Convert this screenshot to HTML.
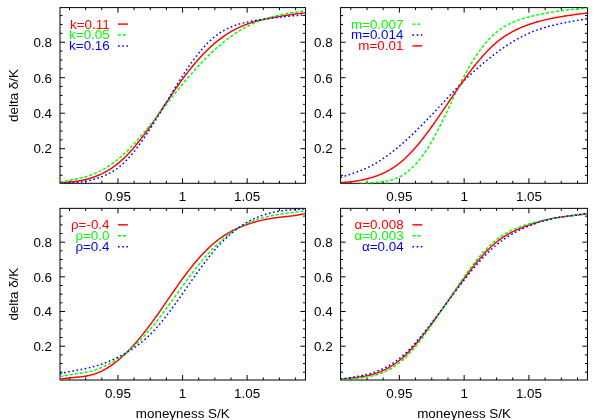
<!DOCTYPE html>
<html><head><meta charset="utf-8"><title>delta vs moneyness</title>
<style>
html,body{margin:0;padding:0;background:#fff;}
svg{display:block;will-change:transform;}
text{font-family:"Liberation Sans",sans-serif;font-size:13.4px;fill:#000;}
.ax{stroke:#000;stroke-width:1;fill:none;shape-rendering:auto;}
.cv{fill:none;stroke-width:1.45;}
</style></head>
<body>
<svg width="600" height="420" viewBox="0 0 600 420">
<rect x="0" y="0" width="600" height="420" fill="#ffffff"/>
<!-- panel 1 -->
<g>
<path class="ax" d="M69.50 183.30v-2.50M69.50 7.60v2.50M85.65 183.30v-2.50M85.65 7.60v2.50M101.80 183.30v-2.50M101.80 7.60v2.50M117.95 183.30v-5.00M117.95 7.60v5.00M134.10 183.30v-2.50M134.10 7.60v2.50M150.25 183.30v-2.50M150.25 7.60v2.50M166.40 183.30v-2.50M166.40 7.60v2.50M182.55 183.30v-5.00M182.55 7.60v5.00M198.70 183.30v-2.50M198.70 7.60v2.50M214.85 183.30v-2.50M214.85 7.60v2.50M231.00 183.30v-2.50M231.00 7.60v2.50M247.15 183.30v-5.00M247.15 7.60v5.00M263.30 183.30v-2.50M263.30 7.60v2.50M279.45 183.30v-2.50M279.45 7.60v2.50M295.60 183.30v-2.50M295.60 7.60v2.50M60.00 175.31h2.50M305.50 175.31h-2.50M60.00 166.44h2.50M305.50 166.44h-2.50M60.00 157.57h2.50M305.50 157.57h-2.50M60.00 148.69h5.00M305.50 148.69h-5.00M60.00 139.82h2.50M305.50 139.82h-2.50M60.00 130.94h2.50M305.50 130.94h-2.50M60.00 122.07h2.50M305.50 122.07h-2.50M60.00 113.20h5.00M305.50 113.20h-5.00M60.00 104.32h2.50M305.50 104.32h-2.50M60.00 95.45h2.50M305.50 95.45h-2.50M60.00 86.58h2.50M305.50 86.58h-2.50M60.00 77.70h5.00M305.50 77.70h-5.00M60.00 68.83h2.50M305.50 68.83h-2.50M60.00 59.96h2.50M305.50 59.96h-2.50M60.00 51.08h2.50M305.50 51.08h-2.50M60.00 42.21h5.00M305.50 42.21h-5.00M60.00 33.33h2.50M305.50 33.33h-2.50M60.00 24.46h2.50M305.50 24.46h-2.50M60.00 15.59h2.50M305.50 15.59h-2.50"/>
<rect class="ax" x="60.00" y="7.60" width="245.50" height="175.70"/>
<clipPath id="cp1"><rect x="59.70" y="7.30" width="246.10" height="176.30"/></clipPath>
<g clip-path="url(#cp1)">
<path class="cv" d="M60.00 182.80 L61.03 182.75 L62.05 182.70 L63.08 182.64 L64.11 182.57 L65.14 182.50 L66.16 182.43 L67.19 182.35 L68.22 182.26 L69.24 182.17 L70.27 182.06 L71.30 181.96 L72.33 181.84 L73.35 181.72 L74.38 181.58 L75.41 181.44 L76.44 181.29 L77.46 181.13 L78.49 180.96 L79.52 180.79 L80.54 180.60 L81.57 180.40 L82.60 180.18 L83.63 179.96 L84.65 179.73 L85.68 179.48 L86.71 179.22 L87.73 178.95 L88.76 178.67 L89.79 178.37 L90.82 178.06 L91.84 177.73 L92.87 177.39 L93.90 177.04 L94.92 176.67 L95.95 176.28 L96.98 175.88 L98.01 175.46 L99.03 175.03 L100.06 174.57 L101.09 174.10 L102.12 173.62 L103.14 173.11 L104.17 172.58 L105.20 172.04 L106.22 171.47 L107.25 170.88 L108.28 170.28 L109.31 169.65 L110.33 169.00 L111.36 168.33 L112.39 167.64 L113.41 166.92 L114.44 166.18 L115.47 165.42 L116.50 164.64 L117.52 163.83 L118.55 162.99 L119.58 162.13 L120.60 161.24 L121.63 160.33 L122.66 159.39 L123.69 158.43 L124.71 157.44 L125.74 156.43 L126.77 155.39 L127.79 154.33 L128.82 153.25 L129.85 152.14 L130.88 151.01 L131.90 149.86 L132.93 148.69 L133.96 147.50 L134.99 146.29 L136.01 145.06 L137.04 143.81 L138.07 142.54 L139.09 141.25 L140.12 139.95 L141.15 138.63 L142.18 137.29 L143.20 135.94 L144.23 134.57 L145.26 133.19 L146.28 131.79 L147.31 130.38 L148.34 128.96 L149.37 127.52 L150.39 126.07 L151.42 124.61 L152.45 123.14 L153.47 121.66 L154.50 120.17 L155.53 118.67 L156.56 117.16 L157.58 115.65 L158.61 114.13 L159.64 112.60 L160.67 111.07 L161.69 109.54 L162.72 108.00 L163.75 106.46 L164.77 104.92 L165.80 103.38 L166.83 101.85 L167.86 100.31 L168.88 98.78 L169.91 97.25 L170.94 95.73 L171.96 94.21 L172.99 92.69 L174.02 91.19 L175.05 89.69 L176.07 88.20 L177.10 86.72 L178.13 85.26 L179.15 83.80 L180.18 82.36 L181.21 80.93 L182.24 79.51 L183.26 78.11 L184.29 76.73 L185.32 75.36 L186.35 74.00 L187.37 72.67 L188.40 71.35 L189.43 70.04 L190.45 68.75 L191.48 67.48 L192.51 66.22 L193.54 64.98 L194.56 63.76 L195.59 62.56 L196.62 61.37 L197.64 60.19 L198.67 59.04 L199.70 57.90 L200.73 56.78 L201.75 55.67 L202.78 54.59 L203.81 53.52 L204.83 52.46 L205.86 51.43 L206.89 50.41 L207.92 49.41 L208.94 48.43 L209.97 47.47 L211.00 46.52 L212.03 45.60 L213.05 44.69 L214.08 43.80 L215.11 42.92 L216.13 42.07 L217.16 41.23 L218.19 40.41 L219.22 39.61 L220.24 38.83 L221.27 38.06 L222.30 37.31 L223.32 36.58 L224.35 35.87 L225.38 35.17 L226.41 34.49 L227.43 33.82 L228.46 33.17 L229.49 32.54 L230.51 31.93 L231.54 31.33 L232.57 30.74 L233.60 30.17 L234.62 29.62 L235.65 29.08 L236.68 28.56 L237.71 28.05 L238.73 27.56 L239.76 27.08 L240.79 26.61 L241.81 26.17 L242.84 25.73 L243.87 25.31 L244.90 24.90 L245.92 24.51 L246.95 24.13 L247.98 23.76 L249.00 23.41 L250.03 23.07 L251.06 22.74 L252.09 22.42 L253.11 22.11 L254.14 21.81 L255.17 21.52 L256.19 21.24 L257.22 20.97 L258.25 20.71 L259.28 20.45 L260.30 20.21 L261.33 19.97 L262.36 19.73 L263.38 19.51 L264.41 19.28 L265.44 19.07 L266.47 18.86 L267.49 18.65 L268.52 18.45 L269.55 18.25 L270.58 18.06 L271.60 17.86 L272.63 17.67 L273.66 17.49 L274.68 17.30 L275.71 17.11 L276.74 16.93 L277.77 16.74 L278.79 16.56 L279.82 16.38 L280.85 16.20 L281.87 16.03 L282.90 15.85 L283.93 15.68 L284.96 15.51 L285.98 15.35 L287.01 15.18 L288.04 15.02 L289.06 14.86 L290.09 14.71 L291.12 14.56 L292.15 14.42 L293.17 14.27 L294.20 14.14 L295.23 14.00 L296.26 13.88 L297.28 13.75 L298.31 13.63 L299.34 13.52 L300.36 13.41 L301.39 13.31 L302.42 13.21 L303.45 13.12 L304.47 13.04 L305.50 12.96" stroke="#ff0000"/>
<path class="cv" d="M60.00 182.21 L61.03 182.00 L62.05 181.79 L63.08 181.58 L64.11 181.38 L65.14 181.19 L66.16 180.99 L67.19 180.80 L68.22 180.60 L69.24 180.41 L70.27 180.22 L71.30 180.02 L72.33 179.82 L73.35 179.62 L74.38 179.42 L75.41 179.21 L76.44 178.99 L77.46 178.77 L78.49 178.55 L79.52 178.31 L80.54 178.07 L81.57 177.82 L82.60 177.56 L83.63 177.29 L84.65 177.01 L85.68 176.72 L86.71 176.41 L87.73 176.09 L88.76 175.76 L89.79 175.41 L90.82 175.05 L91.84 174.67 L92.87 174.28 L93.90 173.87 L94.92 173.44 L95.95 173.00 L96.98 172.54 L98.01 172.07 L99.03 171.58 L100.06 171.07 L101.09 170.54 L102.12 169.99 L103.14 169.43 L104.17 168.85 L105.20 168.26 L106.22 167.64 L107.25 167.01 L108.28 166.36 L109.31 165.69 L110.33 165.00 L111.36 164.30 L112.39 163.57 L113.41 162.83 L114.44 162.06 L115.47 161.28 L116.50 160.48 L117.52 159.66 L118.55 158.82 L119.58 157.96 L120.60 157.08 L121.63 156.18 L122.66 155.26 L123.69 154.32 L124.71 153.36 L125.74 152.38 L126.77 151.39 L127.79 150.37 L128.82 149.34 L129.85 148.30 L130.88 147.23 L131.90 146.16 L132.93 145.06 L133.96 143.96 L134.99 142.83 L136.01 141.70 L137.04 140.55 L138.07 139.39 L139.09 138.22 L140.12 137.04 L141.15 135.84 L142.18 134.64 L143.20 133.42 L144.23 132.20 L145.26 130.96 L146.28 129.72 L147.31 128.47 L148.34 127.21 L149.37 125.95 L150.39 124.68 L151.42 123.40 L152.45 122.12 L153.47 120.83 L154.50 119.54 L155.53 118.25 L156.56 116.95 L157.58 115.65 L158.61 114.34 L159.64 113.04 L160.67 111.73 L161.69 110.42 L162.72 109.10 L163.75 107.79 L164.77 106.48 L165.80 105.17 L166.83 103.85 L167.86 102.54 L168.88 101.23 L169.91 99.93 L170.94 98.62 L171.96 97.32 L172.99 96.02 L174.02 94.73 L175.05 93.44 L176.07 92.15 L177.10 90.87 L178.13 89.59 L179.15 88.32 L180.18 87.06 L181.21 85.80 L182.24 84.55 L183.26 83.30 L184.29 82.07 L185.32 80.84 L186.35 79.62 L187.37 78.41 L188.40 77.21 L189.43 76.01 L190.45 74.83 L191.48 73.65 L192.51 72.48 L193.54 71.33 L194.56 70.18 L195.59 69.04 L196.62 67.90 L197.64 66.78 L198.67 65.67 L199.70 64.57 L200.73 63.48 L201.75 62.40 L202.78 61.33 L203.81 60.27 L204.83 59.22 L205.86 58.18 L206.89 57.15 L207.92 56.13 L208.94 55.13 L209.97 54.13 L211.00 53.15 L212.03 52.18 L213.05 51.22 L214.08 50.27 L215.11 49.34 L216.13 48.42 L217.16 47.50 L218.19 46.61 L219.22 45.72 L220.24 44.84 L221.27 43.98 L222.30 43.13 L223.32 42.29 L224.35 41.47 L225.38 40.66 L226.41 39.86 L227.43 39.07 L228.46 38.29 L229.49 37.53 L230.51 36.78 L231.54 36.04 L232.57 35.32 L233.60 34.61 L234.62 33.91 L235.65 33.22 L236.68 32.55 L237.71 31.89 L238.73 31.24 L239.76 30.61 L240.79 29.99 L241.81 29.38 L242.84 28.79 L243.87 28.21 L244.90 27.64 L245.92 27.09 L246.95 26.54 L247.98 26.02 L249.00 25.50 L250.03 25.00 L251.06 24.50 L252.09 24.03 L253.11 23.56 L254.14 23.10 L255.17 22.66 L256.19 22.22 L257.22 21.80 L258.25 21.39 L259.28 20.99 L260.30 20.60 L261.33 20.22 L262.36 19.85 L263.38 19.49 L264.41 19.14 L265.44 18.80 L266.47 18.47 L267.49 18.15 L268.52 17.84 L269.55 17.54 L270.58 17.24 L271.60 16.95 L272.63 16.68 L273.66 16.41 L274.68 16.14 L275.71 15.89 L276.74 15.64 L277.77 15.40 L278.79 15.17 L279.82 14.94 L280.85 14.72 L281.87 14.51 L282.90 14.30 L283.93 14.10 L284.96 13.90 L285.98 13.71 L287.01 13.53 L288.04 13.35 L289.06 13.17 L290.09 13.00 L291.12 12.84 L292.15 12.67 L293.17 12.51 L294.20 12.36 L295.23 12.21 L296.26 12.06 L297.28 11.91 L298.31 11.77 L299.34 11.63 L300.36 11.49 L301.39 11.36 L302.42 11.23 L303.45 11.09 L304.47 10.96 L305.50 10.83" stroke="#00ff00" stroke-dasharray="3.1 1.9"/>
<path class="cv" d="M60.00 182.74 L61.03 182.83 L62.05 182.90 L63.08 182.96 L64.11 183.01 L65.14 183.04 L66.16 183.06 L67.19 183.07 L68.22 183.06 L69.24 183.05 L70.27 183.01 L71.30 182.97 L72.33 182.92 L73.35 182.85 L74.38 182.77 L75.41 182.68 L76.44 182.58 L77.46 182.46 L78.49 182.34 L79.52 182.21 L80.54 182.06 L81.57 181.90 L82.60 181.74 L83.63 181.56 L84.65 181.38 L85.68 181.18 L86.71 180.98 L87.73 180.77 L88.76 180.54 L89.79 180.31 L90.82 180.07 L91.84 179.82 L92.87 179.56 L93.90 179.30 L94.92 179.02 L95.95 178.72 L96.98 178.42 L98.01 178.10 L99.03 177.77 L100.06 177.42 L101.09 177.05 L102.12 176.67 L103.14 176.27 L104.17 175.85 L105.20 175.40 L106.22 174.94 L107.25 174.46 L108.28 173.95 L109.31 173.42 L110.33 172.87 L111.36 172.28 L112.39 171.68 L113.41 171.04 L114.44 170.38 L115.47 169.69 L116.50 168.97 L117.52 168.21 L118.55 167.43 L119.58 166.61 L120.60 165.76 L121.63 164.88 L122.66 163.96 L123.69 163.00 L124.71 162.02 L125.74 161.00 L126.77 159.94 L127.79 158.86 L128.82 157.75 L129.85 156.60 L130.88 155.43 L131.90 154.23 L132.93 153.00 L133.96 151.74 L134.99 150.46 L136.01 149.15 L137.04 147.81 L138.07 146.45 L139.09 145.07 L140.12 143.66 L141.15 142.24 L142.18 140.79 L143.20 139.32 L144.23 137.83 L145.26 136.32 L146.28 134.79 L147.31 133.24 L148.34 131.68 L149.37 130.10 L150.39 128.50 L151.42 126.89 L152.45 125.26 L153.47 123.62 L154.50 121.97 L155.53 120.31 L156.56 118.63 L157.58 116.95 L158.61 115.26 L159.64 113.56 L160.67 111.85 L161.69 110.14 L162.72 108.42 L163.75 106.70 L164.77 104.98 L165.80 103.26 L166.83 101.53 L167.86 99.81 L168.88 98.09 L169.91 96.37 L170.94 94.65 L171.96 92.94 L172.99 91.24 L174.02 89.54 L175.05 87.85 L176.07 86.17 L177.10 84.50 L178.13 82.84 L179.15 81.19 L180.18 79.55 L181.21 77.93 L182.24 76.32 L183.26 74.73 L184.29 73.16 L185.32 71.61 L186.35 70.07 L187.37 68.55 L188.40 67.05 L189.43 65.57 L190.45 64.10 L191.48 62.66 L192.51 61.24 L193.54 59.84 L194.56 58.47 L195.59 57.11 L196.62 55.78 L197.64 54.48 L198.67 53.19 L199.70 51.93 L200.73 50.70 L201.75 49.49 L202.78 48.31 L203.81 47.16 L204.83 46.03 L205.86 44.93 L206.89 43.86 L207.92 42.81 L208.94 41.80 L209.97 40.82 L211.00 39.86 L212.03 38.94 L213.05 38.05 L214.08 37.19 L215.11 36.36 L216.13 35.56 L217.16 34.80 L218.19 34.06 L219.22 33.35 L220.24 32.67 L221.27 32.01 L222.30 31.38 L223.32 30.78 L224.35 30.20 L225.38 29.65 L226.41 29.11 L227.43 28.60 L228.46 28.11 L229.49 27.65 L230.51 27.20 L231.54 26.77 L232.57 26.36 L233.60 25.97 L234.62 25.59 L235.65 25.23 L236.68 24.88 L237.71 24.55 L238.73 24.24 L239.76 23.93 L240.79 23.64 L241.81 23.36 L242.84 23.09 L243.87 22.83 L244.90 22.57 L245.92 22.33 L246.95 22.10 L247.98 21.87 L249.00 21.65 L250.03 21.44 L251.06 21.23 L252.09 21.04 L253.11 20.84 L254.14 20.66 L255.17 20.48 L256.19 20.31 L257.22 20.14 L258.25 19.97 L259.28 19.82 L260.30 19.66 L261.33 19.51 L262.36 19.37 L263.38 19.22 L264.41 19.09 L265.44 18.95 L266.47 18.82 L267.49 18.69 L268.52 18.56 L269.55 18.43 L270.58 18.31 L271.60 18.19 L272.63 18.07 L273.66 17.94 L274.68 17.82 L275.71 17.70 L276.74 17.58 L277.77 17.46 L278.79 17.35 L279.82 17.23 L280.85 17.11 L281.87 17.00 L282.90 16.88 L283.93 16.77 L284.96 16.66 L285.98 16.55 L287.01 16.44 L288.04 16.33 L289.06 16.23 L290.09 16.13 L291.12 16.03 L292.15 15.93 L293.17 15.84 L294.20 15.74 L295.23 15.66 L296.26 15.57 L297.28 15.49 L298.31 15.41 L299.34 15.34 L300.36 15.27 L301.39 15.20 L302.42 15.14 L303.45 15.08 L304.47 15.02 L305.50 14.97" stroke="#0000ff" stroke-dasharray="1.7 2.5"/>
</g>
<text transform="translate(52.00 153.49) scale(1 1)" text-anchor="end">0.2</text>
<text transform="translate(52.00 118.00) scale(1 1)" text-anchor="end">0.4</text>
<text transform="translate(52.00 82.50) scale(1 1)" text-anchor="end">0.6</text>
<text transform="translate(52.00 47.01) scale(1 1)" text-anchor="end">0.8</text>
<text transform="translate(117.95 201.30) scale(1 1)" text-anchor="middle">0.95</text>
<text transform="translate(182.55 201.30) scale(1 1)" text-anchor="middle">1</text>
<text transform="translate(247.15 201.30) scale(1 1)" text-anchor="middle">1.05</text>
<text transform="translate(109.70 28.50) scale(1 1)" text-anchor="end" style="fill:#ff0000">k=0.11</text>
<path class="cv" d="M118.00 24.10h9.9" stroke="#ff0000"/>
<text transform="translate(109.70 39.40) scale(1 1)" text-anchor="end" style="fill:#00ff00">k=0.05</text>
<path class="cv" d="M118.00 35.00h9.9" stroke="#00ff00" stroke-dasharray="3.1 1.9"/>
<text transform="translate(109.70 50.30) scale(1 1)" text-anchor="end" style="fill:#0000ff">k=0.16</text>
<path class="cv" d="M118.00 45.90h9.9" stroke="#0000ff" stroke-dasharray="1.7 2.5"/>
</g>
<!-- panel 2 -->
<g>
<path class="ax" d="M350.79 183.30v-2.50M350.79 7.60v2.50M366.99 183.30v-2.50M366.99 7.60v2.50M383.18 183.30v-2.50M383.18 7.60v2.50M399.38 183.30v-5.00M399.38 7.60v5.00M415.57 183.30v-2.50M415.57 7.60v2.50M431.76 183.30v-2.50M431.76 7.60v2.50M447.96 183.30v-2.50M447.96 7.60v2.50M464.15 183.30v-5.00M464.15 7.60v5.00M480.34 183.30v-2.50M480.34 7.60v2.50M496.54 183.30v-2.50M496.54 7.60v2.50M512.73 183.30v-2.50M512.73 7.60v2.50M528.93 183.30v-5.00M528.93 7.60v5.00M545.12 183.30v-2.50M545.12 7.60v2.50M561.31 183.30v-2.50M561.31 7.60v2.50M577.51 183.30v-2.50M577.51 7.60v2.50M340.60 175.31h2.50M587.45 175.31h-2.50M340.60 166.44h2.50M587.45 166.44h-2.50M340.60 157.57h2.50M587.45 157.57h-2.50M340.60 148.69h5.00M587.45 148.69h-5.00M340.60 139.82h2.50M587.45 139.82h-2.50M340.60 130.94h2.50M587.45 130.94h-2.50M340.60 122.07h2.50M587.45 122.07h-2.50M340.60 113.20h5.00M587.45 113.20h-5.00M340.60 104.32h2.50M587.45 104.32h-2.50M340.60 95.45h2.50M587.45 95.45h-2.50M340.60 86.58h2.50M587.45 86.58h-2.50M340.60 77.70h5.00M587.45 77.70h-5.00M340.60 68.83h2.50M587.45 68.83h-2.50M340.60 59.96h2.50M587.45 59.96h-2.50M340.60 51.08h2.50M587.45 51.08h-2.50M340.60 42.21h5.00M587.45 42.21h-5.00M340.60 33.33h2.50M587.45 33.33h-2.50M340.60 24.46h2.50M587.45 24.46h-2.50M340.60 15.59h2.50M587.45 15.59h-2.50"/>
<rect class="ax" x="340.60" y="7.60" width="246.85" height="175.70"/>
<clipPath id="cp2"><rect x="340.30" y="7.30" width="247.45" height="176.30"/></clipPath>
<g clip-path="url(#cp2)">
<path class="cv" d="M340.60 185.45 L341.63 185.48 L342.67 185.50 L343.70 185.51 L344.73 185.50 L345.76 185.48 L346.80 185.45 L347.83 185.41 L348.86 185.35 L349.90 185.29 L350.93 185.21 L351.96 185.13 L352.99 185.04 L354.03 184.94 L355.06 184.83 L356.09 184.72 L357.13 184.61 L358.16 184.49 L359.19 184.36 L360.22 184.24 L361.26 184.11 L362.29 183.98 L363.32 183.85 L364.36 183.72 L365.39 183.59 L366.42 183.46 L367.45 183.33 L368.49 183.20 L369.52 183.08 L370.55 182.96 L371.59 182.85 L372.62 182.74 L373.65 182.64 L374.68 182.54 L375.72 182.44 L376.75 182.33 L377.78 182.23 L378.82 182.12 L379.85 182.01 L380.88 181.89 L381.91 181.76 L382.95 181.62 L383.98 181.48 L385.01 181.31 L386.05 181.14 L387.08 180.95 L388.11 180.74 L389.14 180.51 L390.18 180.27 L391.21 180.00 L392.24 179.71 L393.28 179.39 L394.31 179.05 L395.34 178.68 L396.37 178.28 L397.41 177.85 L398.44 177.39 L399.47 176.90 L400.51 176.37 L401.54 175.80 L402.57 175.20 L403.60 174.56 L404.64 173.87 L405.67 173.15 L406.70 172.39 L407.73 171.59 L408.77 170.75 L409.80 169.87 L410.83 168.95 L411.87 167.99 L412.90 166.99 L413.93 165.95 L414.96 164.86 L416.00 163.74 L417.03 162.58 L418.06 161.37 L419.10 160.13 L420.13 158.84 L421.16 157.51 L422.19 156.14 L423.23 154.73 L424.26 153.27 L425.29 151.78 L426.33 150.24 L427.36 148.66 L428.39 147.03 L429.42 145.37 L430.46 143.66 L431.49 141.91 L432.52 140.11 L433.56 138.28 L434.59 136.40 L435.62 134.48 L436.65 132.52 L437.69 130.53 L438.72 128.51 L439.75 126.45 L440.79 124.38 L441.82 122.27 L442.85 120.15 L443.88 118.01 L444.92 115.85 L445.95 113.68 L446.98 111.50 L448.02 109.31 L449.05 107.11 L450.08 104.92 L451.11 102.72 L452.15 100.52 L453.18 98.33 L454.21 96.15 L455.25 93.98 L456.28 91.82 L457.31 89.68 L458.34 87.56 L459.38 85.45 L460.41 83.37 L461.44 81.32 L462.48 79.30 L463.51 77.30 L464.54 75.34 L465.57 73.42 L466.61 71.53 L467.64 69.68 L468.67 67.87 L469.71 66.08 L470.74 64.34 L471.77 62.63 L472.80 60.95 L473.84 59.31 L474.87 57.71 L475.90 56.14 L476.94 54.61 L477.97 53.11 L479.00 51.65 L480.03 50.22 L481.07 48.83 L482.10 47.47 L483.13 46.15 L484.17 44.86 L485.20 43.61 L486.23 42.39 L487.26 41.21 L488.30 40.06 L489.33 38.95 L490.36 37.88 L491.40 36.84 L492.43 35.83 L493.46 34.86 L494.49 33.92 L495.53 33.02 L496.56 32.15 L497.59 31.32 L498.63 30.52 L499.66 29.75 L500.69 29.01 L501.72 28.30 L502.76 27.62 L503.79 26.96 L504.82 26.34 L505.86 25.73 L506.89 25.16 L507.92 24.60 L508.95 24.07 L509.99 23.57 L511.02 23.08 L512.05 22.61 L513.09 22.16 L514.12 21.73 L515.15 21.32 L516.18 20.92 L517.22 20.54 L518.25 20.17 L519.28 19.82 L520.32 19.47 L521.35 19.14 L522.38 18.82 L523.41 18.51 L524.45 18.21 L525.48 17.91 L526.51 17.62 L527.54 17.34 L528.58 17.06 L529.61 16.79 L530.64 16.52 L531.68 16.26 L532.71 16.01 L533.74 15.76 L534.77 15.52 L535.81 15.28 L536.84 15.05 L537.87 14.82 L538.91 14.60 L539.94 14.38 L540.97 14.17 L542.00 13.96 L543.04 13.76 L544.07 13.56 L545.10 13.36 L546.14 13.17 L547.17 12.98 L548.20 12.80 L549.23 12.62 L550.27 12.45 L551.30 12.27 L552.33 12.11 L553.37 11.94 L554.40 11.78 L555.43 11.62 L556.46 11.47 L557.50 11.31 L558.53 11.16 L559.56 11.02 L560.60 10.87 L561.63 10.73 L562.66 10.59 L563.69 10.46 L564.73 10.33 L565.76 10.20 L566.79 10.07 L567.83 9.94 L568.86 9.82 L569.89 9.70 L570.92 9.58 L571.96 9.46 L572.99 9.35 L574.02 9.24 L575.06 9.13 L576.09 9.02 L577.12 8.92 L578.15 8.81 L579.19 8.71 L580.22 8.61 L581.25 8.51 L582.29 8.42 L583.32 8.32 L584.35 8.23 L585.38 8.14 L586.42 8.05 L587.45 7.96" stroke="#00ff00" stroke-dasharray="3.1 1.9"/>
<path class="cv" d="M340.60 177.45 L341.63 177.12 L342.67 176.79 L343.70 176.45 L344.73 176.12 L345.76 175.79 L346.80 175.45 L347.83 175.12 L348.86 174.78 L349.90 174.44 L350.93 174.09 L351.96 173.74 L352.99 173.38 L354.03 173.02 L355.06 172.66 L356.09 172.28 L357.13 171.91 L358.16 171.52 L359.19 171.12 L360.22 170.72 L361.26 170.31 L362.29 169.88 L363.32 169.45 L364.36 169.01 L365.39 168.55 L366.42 168.08 L367.45 167.60 L368.49 167.11 L369.52 166.60 L370.55 166.08 L371.59 165.55 L372.62 165.00 L373.65 164.43 L374.68 163.85 L375.72 163.26 L376.75 162.65 L377.78 162.03 L378.82 161.39 L379.85 160.74 L380.88 160.08 L381.91 159.40 L382.95 158.71 L383.98 158.01 L385.01 157.29 L386.05 156.56 L387.08 155.82 L388.11 155.07 L389.14 154.30 L390.18 153.53 L391.21 152.74 L392.24 151.94 L393.28 151.13 L394.31 150.31 L395.34 149.47 L396.37 148.63 L397.41 147.78 L398.44 146.91 L399.47 146.04 L400.51 145.16 L401.54 144.26 L402.57 143.36 L403.60 142.45 L404.64 141.53 L405.67 140.60 L406.70 139.66 L407.73 138.71 L408.77 137.76 L409.80 136.80 L410.83 135.83 L411.87 134.85 L412.90 133.86 L413.93 132.87 L414.96 131.87 L416.00 130.86 L417.03 129.85 L418.06 128.83 L419.10 127.80 L420.13 126.77 L421.16 125.73 L422.19 124.69 L423.23 123.64 L424.26 122.59 L425.29 121.53 L426.33 120.46 L427.36 119.39 L428.39 118.32 L429.42 117.24 L430.46 116.16 L431.49 115.07 L432.52 113.98 L433.56 112.89 L434.59 111.79 L435.62 110.69 L436.65 109.59 L437.69 108.49 L438.72 107.38 L439.75 106.27 L440.79 105.16 L441.82 104.05 L442.85 102.95 L443.88 101.84 L444.92 100.73 L445.95 99.62 L446.98 98.52 L448.02 97.41 L449.05 96.31 L450.08 95.21 L451.11 94.12 L452.15 93.03 L453.18 91.94 L454.21 90.85 L455.25 89.77 L456.28 88.70 L457.31 87.63 L458.34 86.57 L459.38 85.51 L460.41 84.46 L461.44 83.42 L462.48 82.38 L463.51 81.35 L464.54 80.33 L465.57 79.32 L466.61 78.32 L467.64 77.32 L468.67 76.34 L469.71 75.36 L470.74 74.39 L471.77 73.43 L472.80 72.47 L473.84 71.53 L474.87 70.59 L475.90 69.66 L476.94 68.74 L477.97 67.82 L479.00 66.92 L480.03 66.02 L481.07 65.13 L482.10 64.25 L483.13 63.38 L484.17 62.51 L485.20 61.65 L486.23 60.80 L487.26 59.96 L488.30 59.13 L489.33 58.30 L490.36 57.48 L491.40 56.67 L492.43 55.87 L493.46 55.07 L494.49 54.28 L495.53 53.50 L496.56 52.73 L497.59 51.97 L498.63 51.21 L499.66 50.46 L500.69 49.72 L501.72 48.99 L502.76 48.27 L503.79 47.55 L504.82 46.85 L505.86 46.15 L506.89 45.46 L507.92 44.78 L508.95 44.12 L509.99 43.46 L511.02 42.81 L512.05 42.17 L513.09 41.54 L514.12 40.92 L515.15 40.31 L516.18 39.72 L517.22 39.13 L518.25 38.55 L519.28 37.99 L520.32 37.43 L521.35 36.89 L522.38 36.36 L523.41 35.84 L524.45 35.34 L525.48 34.84 L526.51 34.36 L527.54 33.89 L528.58 33.43 L529.61 32.98 L530.64 32.54 L531.68 32.11 L532.71 31.70 L533.74 31.29 L534.77 30.90 L535.81 30.51 L536.84 30.14 L537.87 29.77 L538.91 29.42 L539.94 29.07 L540.97 28.73 L542.00 28.40 L543.04 28.08 L544.07 27.76 L545.10 27.45 L546.14 27.15 L547.17 26.86 L548.20 26.57 L549.23 26.29 L550.27 26.02 L551.30 25.75 L552.33 25.49 L553.37 25.24 L554.40 24.98 L555.43 24.74 L556.46 24.50 L557.50 24.26 L558.53 24.03 L559.56 23.80 L560.60 23.58 L561.63 23.36 L562.66 23.14 L563.69 22.93 L564.73 22.72 L565.76 22.51 L566.79 22.31 L567.83 22.11 L568.86 21.91 L569.89 21.71 L570.92 21.52 L571.96 21.33 L572.99 21.14 L574.02 20.95 L575.06 20.77 L576.09 20.58 L577.12 20.40 L578.15 20.22 L579.19 20.04 L580.22 19.86 L581.25 19.68 L582.29 19.51 L583.32 19.33 L584.35 19.15 L585.38 18.98 L586.42 18.80 L587.45 18.62" stroke="#0000ff" stroke-dasharray="1.7 2.5"/>
<path class="cv" d="M340.60 182.58 L341.63 182.52 L342.67 182.46 L343.70 182.39 L344.73 182.32 L345.76 182.24 L346.80 182.16 L347.83 182.06 L348.86 181.96 L349.90 181.86 L350.93 181.74 L351.96 181.62 L352.99 181.49 L354.03 181.35 L355.06 181.20 L356.09 181.05 L357.13 180.89 L358.16 180.71 L359.19 180.53 L360.22 180.34 L361.26 180.14 L362.29 179.93 L363.32 179.71 L364.36 179.48 L365.39 179.24 L366.42 178.99 L367.45 178.73 L368.49 178.46 L369.52 178.18 L370.55 177.89 L371.59 177.58 L372.62 177.26 L373.65 176.94 L374.68 176.59 L375.72 176.24 L376.75 175.87 L377.78 175.49 L378.82 175.09 L379.85 174.68 L380.88 174.25 L381.91 173.80 L382.95 173.34 L383.98 172.86 L385.01 172.36 L386.05 171.85 L387.08 171.31 L388.11 170.76 L389.14 170.18 L390.18 169.59 L391.21 168.97 L392.24 168.33 L393.28 167.67 L394.31 166.99 L395.34 166.28 L396.37 165.55 L397.41 164.80 L398.44 164.02 L399.47 163.21 L400.51 162.38 L401.54 161.53 L402.57 160.64 L403.60 159.73 L404.64 158.80 L405.67 157.83 L406.70 156.84 L407.73 155.83 L408.77 154.79 L409.80 153.73 L410.83 152.65 L411.87 151.54 L412.90 150.41 L413.93 149.26 L414.96 148.09 L416.00 146.89 L417.03 145.68 L418.06 144.45 L419.10 143.20 L420.13 141.93 L421.16 140.65 L422.19 139.35 L423.23 138.03 L424.26 136.70 L425.29 135.35 L426.33 133.98 L427.36 132.60 L428.39 131.21 L429.42 129.81 L430.46 128.39 L431.49 126.96 L432.52 125.52 L433.56 124.07 L434.59 122.61 L435.62 121.14 L436.65 119.67 L437.69 118.18 L438.72 116.69 L439.75 115.19 L440.79 113.68 L441.82 112.17 L442.85 110.66 L443.88 109.14 L444.92 107.62 L445.95 106.10 L446.98 104.57 L448.02 103.05 L449.05 101.52 L450.08 100.00 L451.11 98.47 L452.15 96.95 L453.18 95.43 L454.21 93.92 L455.25 92.41 L456.28 90.90 L457.31 89.40 L458.34 87.91 L459.38 86.43 L460.41 84.95 L461.44 83.48 L462.48 82.02 L463.51 80.57 L464.54 79.13 L465.57 77.70 L466.61 76.28 L467.64 74.88 L468.67 73.49 L469.71 72.11 L470.74 70.75 L471.77 69.39 L472.80 68.06 L473.84 66.74 L474.87 65.43 L475.90 64.14 L476.94 62.87 L477.97 61.61 L479.00 60.37 L480.03 59.15 L481.07 57.95 L482.10 56.76 L483.13 55.60 L484.17 54.45 L485.20 53.33 L486.23 52.22 L487.26 51.14 L488.30 50.08 L489.33 49.04 L490.36 48.02 L491.40 47.02 L492.43 46.05 L493.46 45.10 L494.49 44.18 L495.53 43.28 L496.56 42.40 L497.59 41.55 L498.63 40.72 L499.66 39.92 L500.69 39.14 L501.72 38.38 L502.76 37.64 L503.79 36.92 L504.82 36.22 L505.86 35.55 L506.89 34.89 L507.92 34.25 L508.95 33.63 L509.99 33.02 L511.02 32.44 L512.05 31.87 L513.09 31.32 L514.12 30.78 L515.15 30.26 L516.18 29.75 L517.22 29.26 L518.25 28.78 L519.28 28.32 L520.32 27.87 L521.35 27.43 L522.38 27.00 L523.41 26.58 L524.45 26.17 L525.48 25.78 L526.51 25.39 L527.54 25.01 L528.58 24.65 L529.61 24.29 L530.64 23.94 L531.68 23.60 L532.71 23.26 L533.74 22.94 L534.77 22.62 L535.81 22.31 L536.84 22.01 L537.87 21.72 L538.91 21.43 L539.94 21.15 L540.97 20.88 L542.00 20.61 L543.04 20.35 L544.07 20.10 L545.10 19.85 L546.14 19.61 L547.17 19.38 L548.20 19.15 L549.23 18.93 L550.27 18.71 L551.30 18.49 L552.33 18.29 L553.37 18.08 L554.40 17.88 L555.43 17.69 L556.46 17.50 L557.50 17.31 L558.53 17.12 L559.56 16.94 L560.60 16.77 L561.63 16.59 L562.66 16.42 L563.69 16.26 L564.73 16.09 L565.76 15.93 L566.79 15.77 L567.83 15.62 L568.86 15.46 L569.89 15.31 L570.92 15.16 L571.96 15.02 L572.99 14.87 L574.02 14.73 L575.06 14.58 L576.09 14.44 L577.12 14.30 L578.15 14.16 L579.19 14.03 L580.22 13.89 L581.25 13.75 L582.29 13.62 L583.32 13.48 L584.35 13.35 L585.38 13.21 L586.42 13.08 L587.45 12.94" stroke="#ff0000"/>
</g>
<text transform="translate(332.60 153.49) scale(1 1)" text-anchor="end">0.2</text>
<text transform="translate(332.60 118.00) scale(1 1)" text-anchor="end">0.4</text>
<text transform="translate(332.60 82.50) scale(1 1)" text-anchor="end">0.6</text>
<text transform="translate(332.60 47.01) scale(1 1)" text-anchor="end">0.8</text>
<text transform="translate(399.37 201.30) scale(1 1)" text-anchor="middle">0.95</text>
<text transform="translate(464.15 201.30) scale(1 1)" text-anchor="middle">1</text>
<text transform="translate(528.93 201.30) scale(1 1)" text-anchor="middle">1.05</text>
<text transform="translate(403.40 28.50) scale(1 1)" text-anchor="end" style="fill:#00ff00">m=0.007</text>
<path class="cv" d="M412.40 24.10h9.9" stroke="#00ff00" stroke-dasharray="3.1 1.9"/>
<text transform="translate(403.40 39.40) scale(1 1)" text-anchor="end" style="fill:#0000ff">m=0.014</text>
<path class="cv" d="M412.40 35.00h9.9" stroke="#0000ff" stroke-dasharray="1.7 2.5"/>
<text transform="translate(403.40 50.30) scale(1 1)" text-anchor="end" style="fill:#ff0000">m=0.01</text>
<path class="cv" d="M412.40 45.90h9.9" stroke="#ff0000"/>
</g>
<!-- panel 3 -->
<g>
<path class="ax" d="M69.50 380.00v-2.50M69.50 208.35v2.50M85.65 380.00v-2.50M85.65 208.35v2.50M101.80 380.00v-2.50M101.80 208.35v2.50M117.95 380.00v-5.00M117.95 208.35v5.00M134.10 380.00v-2.50M134.10 208.35v2.50M150.25 380.00v-2.50M150.25 208.35v2.50M166.40 380.00v-2.50M166.40 208.35v2.50M182.55 380.00v-5.00M182.55 208.35v5.00M198.70 380.00v-2.50M198.70 208.35v2.50M214.85 380.00v-2.50M214.85 208.35v2.50M231.00 380.00v-2.50M231.00 208.35v2.50M247.15 380.00v-5.00M247.15 208.35v5.00M263.30 380.00v-2.50M263.30 208.35v2.50M279.45 380.00v-2.50M279.45 208.35v2.50M295.60 380.00v-2.50M295.60 208.35v2.50M60.00 372.20h2.50M305.50 372.20h-2.50M60.00 363.53h2.50M305.50 363.53h-2.50M60.00 354.86h2.50M305.50 354.86h-2.50M60.00 346.19h5.00M305.50 346.19h-5.00M60.00 337.52h2.50M305.50 337.52h-2.50M60.00 328.85h2.50M305.50 328.85h-2.50M60.00 320.18h2.50M305.50 320.18h-2.50M60.00 311.51h5.00M305.50 311.51h-5.00M60.00 302.84h2.50M305.50 302.84h-2.50M60.00 294.18h2.50M305.50 294.18h-2.50M60.00 285.51h2.50M305.50 285.51h-2.50M60.00 276.84h5.00M305.50 276.84h-5.00M60.00 268.17h2.50M305.50 268.17h-2.50M60.00 259.50h2.50M305.50 259.50h-2.50M60.00 250.83h2.50M305.50 250.83h-2.50M60.00 242.16h5.00M305.50 242.16h-5.00M60.00 233.49h2.50M305.50 233.49h-2.50M60.00 224.82h2.50M305.50 224.82h-2.50M60.00 216.15h2.50M305.50 216.15h-2.50"/>
<rect class="ax" x="60.00" y="208.35" width="245.50" height="171.65"/>
<clipPath id="cp3"><rect x="59.70" y="208.05" width="246.10" height="172.25"/></clipPath>
<g clip-path="url(#cp3)">
<path class="cv" d="M60.00 379.44 L61.03 379.20 L62.05 378.99 L63.08 378.79 L64.11 378.61 L65.14 378.45 L66.16 378.30 L67.19 378.17 L68.22 378.04 L69.24 377.92 L70.27 377.82 L71.30 377.71 L72.33 377.62 L73.35 377.52 L74.38 377.43 L75.41 377.34 L76.44 377.25 L77.46 377.16 L78.49 377.07 L79.52 376.96 L80.54 376.86 L81.57 376.74 L82.60 376.62 L83.63 376.48 L84.65 376.33 L85.68 376.17 L86.71 375.99 L87.73 375.79 L88.76 375.58 L89.79 375.35 L90.82 375.09 L91.84 374.82 L92.87 374.52 L93.90 374.19 L94.92 373.85 L95.95 373.48 L96.98 373.10 L98.01 372.68 L99.03 372.25 L100.06 371.80 L101.09 371.32 L102.12 370.82 L103.14 370.30 L104.17 369.76 L105.20 369.19 L106.22 368.60 L107.25 368.00 L108.28 367.37 L109.31 366.71 L110.33 366.04 L111.36 365.35 L112.39 364.63 L113.41 363.89 L114.44 363.13 L115.47 362.35 L116.50 361.55 L117.52 360.73 L118.55 359.89 L119.58 359.02 L120.60 358.14 L121.63 357.23 L122.66 356.31 L123.69 355.36 L124.71 354.39 L125.74 353.40 L126.77 352.40 L127.79 351.37 L128.82 350.33 L129.85 349.26 L130.88 348.18 L131.90 347.08 L132.93 345.96 L133.96 344.82 L134.99 343.67 L136.01 342.50 L137.04 341.31 L138.07 340.11 L139.09 338.89 L140.12 337.65 L141.15 336.40 L142.18 335.13 L143.20 333.85 L144.23 332.55 L145.26 331.24 L146.28 329.92 L147.31 328.58 L148.34 327.23 L149.37 325.86 L150.39 324.48 L151.42 323.09 L152.45 321.69 L153.47 320.27 L154.50 318.85 L155.53 317.41 L156.56 315.96 L157.58 314.51 L158.61 313.05 L159.64 311.58 L160.67 310.10 L161.69 308.62 L162.72 307.13 L163.75 305.64 L164.77 304.15 L165.80 302.66 L166.83 301.16 L167.86 299.67 L168.88 298.17 L169.91 296.68 L170.94 295.19 L171.96 293.70 L172.99 292.21 L174.02 290.73 L175.05 289.26 L176.07 287.79 L177.10 286.32 L178.13 284.87 L179.15 283.42 L180.18 281.99 L181.21 280.56 L182.24 279.15 L183.26 277.74 L184.29 276.35 L185.32 274.98 L186.35 273.61 L187.37 272.26 L188.40 270.93 L189.43 269.60 L190.45 268.30 L191.48 267.00 L192.51 265.73 L193.54 264.46 L194.56 263.22 L195.59 261.99 L196.62 260.78 L197.64 259.58 L198.67 258.40 L199.70 257.24 L200.73 256.10 L201.75 254.97 L202.78 253.87 L203.81 252.78 L204.83 251.72 L205.86 250.67 L206.89 249.64 L207.92 248.64 L208.94 247.65 L209.97 246.69 L211.00 245.74 L212.03 244.82 L213.05 243.93 L214.08 243.05 L215.11 242.20 L216.13 241.37 L217.16 240.56 L218.19 239.77 L219.22 239.00 L220.24 238.25 L221.27 237.52 L222.30 236.82 L223.32 236.13 L224.35 235.46 L225.38 234.80 L226.41 234.17 L227.43 233.55 L228.46 232.95 L229.49 232.37 L230.51 231.80 L231.54 231.25 L232.57 230.71 L233.60 230.19 L234.62 229.68 L235.65 229.19 L236.68 228.71 L237.71 228.24 L238.73 227.78 L239.76 227.34 L240.79 226.91 L241.81 226.49 L242.84 226.08 L243.87 225.68 L244.90 225.29 L245.92 224.92 L246.95 224.55 L247.98 224.19 L249.00 223.84 L250.03 223.50 L251.06 223.17 L252.09 222.85 L253.11 222.54 L254.14 222.23 L255.17 221.94 L256.19 221.65 L257.22 221.38 L258.25 221.11 L259.28 220.85 L260.30 220.60 L261.33 220.35 L262.36 220.12 L263.38 219.89 L264.41 219.67 L265.44 219.46 L266.47 219.26 L267.49 219.06 L268.52 218.87 L269.55 218.69 L270.58 218.52 L271.60 218.35 L272.63 218.19 L273.66 218.04 L274.68 217.89 L275.71 217.75 L276.74 217.62 L277.77 217.49 L278.79 217.37 L279.82 217.25 L280.85 217.14 L281.87 217.02 L282.90 216.91 L283.93 216.80 L284.96 216.69 L285.98 216.58 L287.01 216.46 L288.04 216.35 L289.06 216.23 L290.09 216.11 L291.12 215.98 L292.15 215.85 L293.17 215.72 L294.20 215.57 L295.23 215.42 L296.26 215.27 L297.28 215.10 L298.31 214.92 L299.34 214.74 L300.36 214.54 L301.39 214.33 L302.42 214.11 L303.45 213.88 L304.47 213.63 L305.50 213.37" stroke="#ff0000"/>
<path class="cv" d="M60.00 376.77 L61.03 376.52 L62.05 376.29 L63.08 376.07 L64.11 375.85 L65.14 375.65 L66.16 375.46 L67.19 375.28 L68.22 375.11 L69.24 374.94 L70.27 374.78 L71.30 374.62 L72.33 374.46 L73.35 374.31 L74.38 374.16 L75.41 374.01 L76.44 373.86 L77.46 373.71 L78.49 373.56 L79.52 373.40 L80.54 373.24 L81.57 373.07 L82.60 372.90 L83.63 372.72 L84.65 372.53 L85.68 372.33 L86.71 372.12 L87.73 371.90 L88.76 371.67 L89.79 371.43 L90.82 371.17 L91.84 370.89 L92.87 370.60 L93.90 370.29 L94.92 369.97 L95.95 369.64 L96.98 369.28 L98.01 368.92 L99.03 368.53 L100.06 368.14 L101.09 367.72 L102.12 367.29 L103.14 366.85 L104.17 366.39 L105.20 365.91 L106.22 365.42 L107.25 364.91 L108.28 364.39 L109.31 363.85 L110.33 363.29 L111.36 362.72 L112.39 362.13 L113.41 361.53 L114.44 360.91 L115.47 360.28 L116.50 359.62 L117.52 358.96 L118.55 358.27 L119.58 357.58 L120.60 356.86 L121.63 356.13 L122.66 355.38 L123.69 354.62 L124.71 353.84 L125.74 353.04 L126.77 352.23 L127.79 351.40 L128.82 350.55 L129.85 349.69 L130.88 348.81 L131.90 347.92 L132.93 347.00 L133.96 346.08 L134.99 345.13 L136.01 344.17 L137.04 343.19 L138.07 342.20 L139.09 341.19 L140.12 340.16 L141.15 339.11 L142.18 338.05 L143.20 336.97 L144.23 335.88 L145.26 334.77 L146.28 333.64 L147.31 332.49 L148.34 331.33 L149.37 330.15 L150.39 328.95 L151.42 327.74 L152.45 326.51 L153.47 325.26 L154.50 323.99 L155.53 322.72 L156.56 321.42 L157.58 320.11 L158.61 318.79 L159.64 317.46 L160.67 316.12 L161.69 314.76 L162.72 313.39 L163.75 312.02 L164.77 310.64 L165.80 309.24 L166.83 307.85 L167.86 306.44 L168.88 305.03 L169.91 303.62 L170.94 302.20 L171.96 300.77 L172.99 299.35 L174.02 297.92 L175.05 296.49 L176.07 295.07 L177.10 293.64 L178.13 292.21 L179.15 290.79 L180.18 289.36 L181.21 287.95 L182.24 286.53 L183.26 285.12 L184.29 283.72 L185.32 282.32 L186.35 280.93 L187.37 279.54 L188.40 278.16 L189.43 276.79 L190.45 275.43 L191.48 274.08 L192.51 272.73 L193.54 271.40 L194.56 270.07 L195.59 268.76 L196.62 267.46 L197.64 266.17 L198.67 264.89 L199.70 263.62 L200.73 262.36 L201.75 261.12 L202.78 259.89 L203.81 258.68 L204.83 257.48 L205.86 256.30 L206.89 255.13 L207.92 253.97 L208.94 252.84 L209.97 251.72 L211.00 250.62 L212.03 249.53 L213.05 248.46 L214.08 247.42 L215.11 246.39 L216.13 245.38 L217.16 244.38 L218.19 243.41 L219.22 242.46 L220.24 241.52 L221.27 240.60 L222.30 239.70 L223.32 238.82 L224.35 237.96 L225.38 237.11 L226.41 236.28 L227.43 235.47 L228.46 234.68 L229.49 233.91 L230.51 233.15 L231.54 232.42 L232.57 231.70 L233.60 230.99 L234.62 230.31 L235.65 229.64 L236.68 228.99 L237.71 228.36 L238.73 227.74 L239.76 227.14 L240.79 226.56 L241.81 226.00 L242.84 225.45 L243.87 224.92 L244.90 224.41 L245.92 223.91 L246.95 223.43 L247.98 222.96 L249.00 222.51 L250.03 222.08 L251.06 221.66 L252.09 221.25 L253.11 220.86 L254.14 220.48 L255.17 220.12 L256.19 219.77 L257.22 219.43 L258.25 219.10 L259.28 218.78 L260.30 218.48 L261.33 218.18 L262.36 217.90 L263.38 217.62 L264.41 217.36 L265.44 217.10 L266.47 216.85 L267.49 216.62 L268.52 216.38 L269.55 216.16 L270.58 215.95 L271.60 215.74 L272.63 215.53 L273.66 215.34 L274.68 215.15 L275.71 214.96 L276.74 214.78 L277.77 214.61 L278.79 214.44 L279.82 214.27 L280.85 214.11 L281.87 213.95 L282.90 213.79 L283.93 213.64 L284.96 213.49 L285.98 213.35 L287.01 213.20 L288.04 213.06 L289.06 212.93 L290.09 212.79 L291.12 212.66 L292.15 212.52 L293.17 212.39 L294.20 212.26 L295.23 212.13 L296.26 212.00 L297.28 211.87 L298.31 211.75 L299.34 211.62 L300.36 211.49 L301.39 211.36 L302.42 211.23 L303.45 211.10 L304.47 210.96 L305.50 210.83" stroke="#00ff00" stroke-dasharray="3.1 1.9"/>
<path class="cv" d="M60.00 373.82 L61.03 373.55 L62.05 373.29 L63.08 373.03 L64.11 372.79 L65.14 372.55 L66.16 372.33 L67.19 372.11 L68.22 371.89 L69.24 371.69 L70.27 371.48 L71.30 371.28 L72.33 371.09 L73.35 370.90 L74.38 370.71 L75.41 370.52 L76.44 370.33 L77.46 370.14 L78.49 369.96 L79.52 369.77 L80.54 369.58 L81.57 369.38 L82.60 369.18 L83.63 368.98 L84.65 368.77 L85.68 368.56 L86.71 368.34 L87.73 368.12 L88.76 367.88 L89.79 367.64 L90.82 367.39 L91.84 367.12 L92.87 366.85 L93.90 366.57 L94.92 366.28 L95.95 365.98 L96.98 365.67 L98.01 365.35 L99.03 365.01 L100.06 364.67 L101.09 364.32 L102.12 363.96 L103.14 363.59 L104.17 363.21 L105.20 362.82 L106.22 362.43 L107.25 362.02 L108.28 361.60 L109.31 361.17 L110.33 360.73 L111.36 360.29 L112.39 359.83 L113.41 359.36 L114.44 358.89 L115.47 358.40 L116.50 357.90 L117.52 357.40 L118.55 356.89 L119.58 356.36 L120.60 355.83 L121.63 355.29 L122.66 354.73 L123.69 354.17 L124.71 353.60 L125.74 353.01 L126.77 352.42 L127.79 351.81 L128.82 351.19 L129.85 350.55 L130.88 349.91 L131.90 349.25 L132.93 348.57 L133.96 347.88 L134.99 347.17 L136.01 346.45 L137.04 345.70 L138.07 344.95 L139.09 344.17 L140.12 343.38 L141.15 342.56 L142.18 341.73 L143.20 340.88 L144.23 340.01 L145.26 339.11 L146.28 338.20 L147.31 337.26 L148.34 336.30 L149.37 335.32 L150.39 334.32 L151.42 333.29 L152.45 332.23 L153.47 331.16 L154.50 330.05 L155.53 328.93 L156.56 327.78 L157.58 326.61 L158.61 325.42 L159.64 324.21 L160.67 322.98 L161.69 321.73 L162.72 320.47 L163.75 319.19 L164.77 317.89 L165.80 316.57 L166.83 315.24 L167.86 313.90 L168.88 312.54 L169.91 311.17 L170.94 309.79 L171.96 308.40 L172.99 306.99 L174.02 305.58 L175.05 304.16 L176.07 302.73 L177.10 301.29 L178.13 299.84 L179.15 298.39 L180.18 296.94 L181.21 295.48 L182.24 294.01 L183.26 292.55 L184.29 291.08 L185.32 289.60 L186.35 288.13 L187.37 286.66 L188.40 285.19 L189.43 283.72 L190.45 282.25 L191.48 280.79 L192.51 279.33 L193.54 277.87 L194.56 276.42 L195.59 274.97 L196.62 273.53 L197.64 272.10 L198.67 270.68 L199.70 269.27 L200.73 267.86 L201.75 266.47 L202.78 265.09 L203.81 263.71 L204.83 262.36 L205.86 261.01 L206.89 259.68 L207.92 258.37 L208.94 257.07 L209.97 255.79 L211.00 254.52 L212.03 253.28 L213.05 252.05 L214.08 250.84 L215.11 249.65 L216.13 248.48 L217.16 247.33 L218.19 246.20 L219.22 245.09 L220.24 244.00 L221.27 242.93 L222.30 241.88 L223.32 240.85 L224.35 239.83 L225.38 238.84 L226.41 237.87 L227.43 236.91 L228.46 235.98 L229.49 235.06 L230.51 234.16 L231.54 233.28 L232.57 232.42 L233.60 231.58 L234.62 230.76 L235.65 229.96 L236.68 229.18 L237.71 228.41 L238.73 227.67 L239.76 226.94 L240.79 226.23 L241.81 225.54 L242.84 224.87 L243.87 224.22 L244.90 223.58 L245.92 222.96 L246.95 222.37 L247.98 221.79 L249.00 221.22 L250.03 220.68 L251.06 220.15 L252.09 219.64 L253.11 219.14 L254.14 218.66 L255.17 218.20 L256.19 217.75 L257.22 217.31 L258.25 216.90 L259.28 216.49 L260.30 216.11 L261.33 215.73 L262.36 215.37 L263.38 215.03 L264.41 214.69 L265.44 214.37 L266.47 214.07 L267.49 213.77 L268.52 213.49 L269.55 213.22 L270.58 212.97 L271.60 212.72 L272.63 212.49 L273.66 212.26 L274.68 212.05 L275.71 211.85 L276.74 211.66 L277.77 211.48 L278.79 211.31 L279.82 211.15 L280.85 210.99 L281.87 210.85 L282.90 210.71 L283.93 210.58 L284.96 210.45 L285.98 210.33 L287.01 210.22 L288.04 210.12 L289.06 210.02 L290.09 209.92 L291.12 209.83 L292.15 209.74 L293.17 209.66 L294.20 209.57 L295.23 209.50 L296.26 209.42 L297.28 209.34 L298.31 209.27 L299.34 209.20 L300.36 209.13 L301.39 209.06 L302.42 208.98 L303.45 208.91 L304.47 208.84 L305.50 208.76" stroke="#0000ff" stroke-dasharray="1.7 2.5"/>
</g>
<text transform="translate(52.00 350.99) scale(1 1)" text-anchor="end">0.2</text>
<text transform="translate(52.00 316.31) scale(1 1)" text-anchor="end">0.4</text>
<text transform="translate(52.00 281.64) scale(1 1)" text-anchor="end">0.6</text>
<text transform="translate(52.00 246.96) scale(1 1)" text-anchor="end">0.8</text>
<text transform="translate(117.95 398.00) scale(1 1)" text-anchor="middle">0.95</text>
<text transform="translate(182.55 398.00) scale(1 1)" text-anchor="middle">1</text>
<text transform="translate(247.15 398.00) scale(1 1)" text-anchor="middle">1.05</text>
<text transform="translate(109.50 229.25) scale(1 1)" text-anchor="end" style="fill:#ff0000">ρ=-0.4</text>
<path class="cv" d="M118.00 224.85h9.9" stroke="#ff0000"/>
<text transform="translate(109.50 240.15) scale(1 1)" text-anchor="end" style="fill:#00ff00">ρ=0.0</text>
<path class="cv" d="M118.00 235.75h9.9" stroke="#00ff00" stroke-dasharray="3.1 1.9"/>
<text transform="translate(109.50 251.05) scale(1 1)" text-anchor="end" style="fill:#0000ff">ρ=0.4</text>
<path class="cv" d="M118.00 246.65h9.9" stroke="#0000ff" stroke-dasharray="1.7 2.5"/>
</g>
<!-- panel 4 -->
<g>
<path class="ax" d="M350.79 380.00v-2.50M350.79 208.35v2.50M366.99 380.00v-2.50M366.99 208.35v2.50M383.18 380.00v-2.50M383.18 208.35v2.50M399.38 380.00v-5.00M399.38 208.35v5.00M415.57 380.00v-2.50M415.57 208.35v2.50M431.76 380.00v-2.50M431.76 208.35v2.50M447.96 380.00v-2.50M447.96 208.35v2.50M464.15 380.00v-5.00M464.15 208.35v5.00M480.34 380.00v-2.50M480.34 208.35v2.50M496.54 380.00v-2.50M496.54 208.35v2.50M512.73 380.00v-2.50M512.73 208.35v2.50M528.93 380.00v-5.00M528.93 208.35v5.00M545.12 380.00v-2.50M545.12 208.35v2.50M561.31 380.00v-2.50M561.31 208.35v2.50M577.51 380.00v-2.50M577.51 208.35v2.50M340.60 372.20h2.50M587.45 372.20h-2.50M340.60 363.53h2.50M587.45 363.53h-2.50M340.60 354.86h2.50M587.45 354.86h-2.50M340.60 346.19h5.00M587.45 346.19h-5.00M340.60 337.52h2.50M587.45 337.52h-2.50M340.60 328.85h2.50M587.45 328.85h-2.50M340.60 320.18h2.50M587.45 320.18h-2.50M340.60 311.51h5.00M587.45 311.51h-5.00M340.60 302.84h2.50M587.45 302.84h-2.50M340.60 294.18h2.50M587.45 294.18h-2.50M340.60 285.51h2.50M587.45 285.51h-2.50M340.60 276.84h5.00M587.45 276.84h-5.00M340.60 268.17h2.50M587.45 268.17h-2.50M340.60 259.50h2.50M587.45 259.50h-2.50M340.60 250.83h2.50M587.45 250.83h-2.50M340.60 242.16h5.00M587.45 242.16h-5.00M340.60 233.49h2.50M587.45 233.49h-2.50M340.60 224.82h2.50M587.45 224.82h-2.50M340.60 216.15h2.50M587.45 216.15h-2.50"/>
<rect class="ax" x="340.60" y="208.35" width="246.85" height="171.65"/>
<clipPath id="cp4"><rect x="340.30" y="208.05" width="247.45" height="172.25"/></clipPath>
<g clip-path="url(#cp4)">
<path class="cv" d="M340.60 379.38 L341.63 379.25 L342.67 379.12 L343.70 378.99 L344.73 378.87 L345.76 378.75 L346.80 378.64 L347.83 378.52 L348.86 378.40 L349.90 378.29 L350.93 378.17 L351.96 378.05 L352.99 377.93 L354.03 377.81 L355.06 377.68 L356.09 377.55 L357.13 377.42 L358.16 377.28 L359.19 377.13 L360.22 376.98 L361.26 376.82 L362.29 376.65 L363.32 376.47 L364.36 376.28 L365.39 376.09 L366.42 375.88 L367.45 375.66 L368.49 375.43 L369.52 375.19 L370.55 374.93 L371.59 374.66 L372.62 374.38 L373.65 374.08 L374.68 373.76 L375.72 373.43 L376.75 373.08 L377.78 372.72 L378.82 372.33 L379.85 371.94 L380.88 371.52 L381.91 371.08 L382.95 370.63 L383.98 370.15 L385.01 369.66 L386.05 369.14 L387.08 368.61 L388.11 368.05 L389.14 367.47 L390.18 366.87 L391.21 366.25 L392.24 365.60 L393.28 364.93 L394.31 364.24 L395.34 363.52 L396.37 362.78 L397.41 362.01 L398.44 361.22 L399.47 360.40 L400.51 359.55 L401.54 358.68 L402.57 357.77 L403.60 356.85 L404.64 355.89 L405.67 354.91 L406.70 353.90 L407.73 352.87 L408.77 351.81 L409.80 350.73 L410.83 349.63 L411.87 348.51 L412.90 347.36 L413.93 346.19 L414.96 345.01 L416.00 343.80 L417.03 342.58 L418.06 341.34 L419.10 340.08 L420.13 338.81 L421.16 337.52 L422.19 336.22 L423.23 334.90 L424.26 333.57 L425.29 332.23 L426.33 330.87 L427.36 329.51 L428.39 328.13 L429.42 326.75 L430.46 325.35 L431.49 323.95 L432.52 322.54 L433.56 321.12 L434.59 319.70 L435.62 318.27 L436.65 316.83 L437.69 315.39 L438.72 313.95 L439.75 312.50 L440.79 311.05 L441.82 309.60 L442.85 308.15 L443.88 306.69 L444.92 305.23 L445.95 303.77 L446.98 302.31 L448.02 300.85 L449.05 299.40 L450.08 297.94 L451.11 296.48 L452.15 295.03 L453.18 293.58 L454.21 292.13 L455.25 290.69 L456.28 289.25 L457.31 287.81 L458.34 286.38 L459.38 284.95 L460.41 283.53 L461.44 282.12 L462.48 280.71 L463.51 279.32 L464.54 277.92 L465.57 276.54 L466.61 275.17 L467.64 273.81 L468.67 272.45 L469.71 271.11 L470.74 269.78 L471.77 268.46 L472.80 267.15 L473.84 265.86 L474.87 264.58 L475.90 263.32 L476.94 262.07 L477.97 260.83 L479.00 259.62 L480.03 258.42 L481.07 257.24 L482.10 256.07 L483.13 254.93 L484.17 253.80 L485.20 252.70 L486.23 251.61 L487.26 250.55 L488.30 249.51 L489.33 248.49 L490.36 247.50 L491.40 246.53 L492.43 245.58 L493.46 244.66 L494.49 243.76 L495.53 242.89 L496.56 242.05 L497.59 241.23 L498.63 240.44 L499.66 239.67 L500.69 238.93 L501.72 238.21 L502.76 237.51 L503.79 236.83 L504.82 236.17 L505.86 235.53 L506.89 234.91 L507.92 234.31 L508.95 233.73 L509.99 233.16 L511.02 232.62 L512.05 232.08 L513.09 231.57 L514.12 231.06 L515.15 230.58 L516.18 230.10 L517.22 229.64 L518.25 229.19 L519.28 228.75 L520.32 228.32 L521.35 227.90 L522.38 227.49 L523.41 227.09 L524.45 226.69 L525.48 226.30 L526.51 225.92 L527.54 225.55 L528.58 225.18 L529.61 224.82 L530.64 224.47 L531.68 224.12 L532.71 223.77 L533.74 223.44 L534.77 223.11 L535.81 222.79 L536.84 222.47 L537.87 222.16 L538.91 221.86 L539.94 221.56 L540.97 221.28 L542.00 220.99 L543.04 220.72 L544.07 220.45 L545.10 220.19 L546.14 219.93 L547.17 219.69 L548.20 219.45 L549.23 219.21 L550.27 218.99 L551.30 218.77 L552.33 218.56 L553.37 218.35 L554.40 218.16 L555.43 217.97 L556.46 217.78 L557.50 217.61 L558.53 217.44 L559.56 217.28 L560.60 217.13 L561.63 216.98 L562.66 216.83 L563.69 216.69 L564.73 216.56 L565.76 216.42 L566.79 216.30 L567.83 216.17 L568.86 216.05 L569.89 215.92 L570.92 215.80 L571.96 215.68 L572.99 215.56 L574.02 215.44 L575.06 215.32 L576.09 215.20 L577.12 215.07 L578.15 214.95 L579.19 214.82 L580.22 214.68 L581.25 214.55 L582.29 214.41 L583.32 214.26 L584.35 214.11 L585.38 213.96 L586.42 213.79 L587.45 213.62" stroke="#ff0000"/>
<path class="cv" d="M340.60 379.65 L341.63 379.54 L342.67 379.43 L343.70 379.33 L344.73 379.24 L345.76 379.14 L346.80 379.06 L347.83 378.97 L348.86 378.89 L349.90 378.81 L350.93 378.73 L351.96 378.65 L352.99 378.57 L354.03 378.48 L355.06 378.40 L356.09 378.31 L357.13 378.22 L358.16 378.12 L359.19 378.02 L360.22 377.91 L361.26 377.80 L362.29 377.67 L363.32 377.54 L364.36 377.40 L365.39 377.25 L366.42 377.09 L367.45 376.92 L368.49 376.74 L369.52 376.54 L370.55 376.33 L371.59 376.11 L372.62 375.87 L373.65 375.61 L374.68 375.34 L375.72 375.05 L376.75 374.75 L377.78 374.43 L378.82 374.09 L379.85 373.73 L380.88 373.35 L381.91 372.95 L382.95 372.53 L383.98 372.09 L385.01 371.63 L386.05 371.15 L387.08 370.65 L388.11 370.12 L389.14 369.58 L390.18 369.00 L391.21 368.41 L392.24 367.78 L393.28 367.14 L394.31 366.47 L395.34 365.77 L396.37 365.04 L397.41 364.29 L398.44 363.51 L399.47 362.70 L400.51 361.87 L401.54 361.00 L402.57 360.11 L403.60 359.18 L404.64 358.23 L405.67 357.25 L406.70 356.24 L407.73 355.20 L408.77 354.14 L409.80 353.05 L410.83 351.93 L411.87 350.79 L412.90 349.63 L413.93 348.44 L414.96 347.23 L416.00 346.00 L417.03 344.75 L418.06 343.48 L419.10 342.18 L420.13 340.87 L421.16 339.54 L422.19 338.19 L423.23 336.83 L424.26 335.45 L425.29 334.05 L426.33 332.64 L427.36 331.21 L428.39 329.77 L429.42 328.31 L430.46 326.84 L431.49 325.36 L432.52 323.87 L433.56 322.37 L434.59 320.86 L435.62 319.34 L436.65 317.81 L437.69 316.28 L438.72 314.73 L439.75 313.19 L440.79 311.63 L441.82 310.07 L442.85 308.51 L443.88 306.94 L444.92 305.38 L445.95 303.81 L446.98 302.24 L448.02 300.67 L449.05 299.10 L450.08 297.53 L451.11 295.96 L452.15 294.40 L453.18 292.84 L454.21 291.29 L455.25 289.74 L456.28 288.20 L457.31 286.66 L458.34 285.14 L459.38 283.62 L460.41 282.11 L461.44 280.61 L462.48 279.12 L463.51 277.64 L464.54 276.17 L465.57 274.72 L466.61 273.28 L467.64 271.85 L468.67 270.44 L469.71 269.05 L470.74 267.67 L471.77 266.30 L472.80 264.95 L473.84 263.62 L474.87 262.31 L475.90 261.01 L476.94 259.73 L477.97 258.48 L479.00 257.24 L480.03 256.02 L481.07 254.82 L482.10 253.64 L483.13 252.49 L484.17 251.36 L485.20 250.25 L486.23 249.16 L487.26 248.10 L488.30 247.06 L489.33 246.05 L490.36 245.06 L491.40 244.09 L492.43 243.16 L493.46 242.25 L494.49 241.37 L495.53 240.51 L496.56 239.69 L497.59 238.89 L498.63 238.11 L499.66 237.37 L500.69 236.64 L501.72 235.94 L502.76 235.27 L503.79 234.62 L504.82 233.99 L505.86 233.38 L506.89 232.79 L507.92 232.22 L508.95 231.68 L509.99 231.15 L511.02 230.63 L512.05 230.14 L513.09 229.66 L514.12 229.20 L515.15 228.75 L516.18 228.32 L517.22 227.90 L518.25 227.50 L519.28 227.11 L520.32 226.73 L521.35 226.36 L522.38 226.00 L523.41 225.65 L524.45 225.31 L525.48 224.97 L526.51 224.65 L527.54 224.33 L528.58 224.02 L529.61 223.72 L530.64 223.42 L531.68 223.13 L532.71 222.85 L533.74 222.57 L534.77 222.31 L535.81 222.04 L536.84 221.78 L537.87 221.53 L538.91 221.29 L539.94 221.05 L540.97 220.81 L542.00 220.58 L543.04 220.36 L544.07 220.14 L545.10 219.93 L546.14 219.72 L547.17 219.51 L548.20 219.31 L549.23 219.12 L550.27 218.93 L551.30 218.74 L552.33 218.56 L553.37 218.38 L554.40 218.20 L555.43 218.03 L556.46 217.86 L557.50 217.70 L558.53 217.54 L559.56 217.38 L560.60 217.22 L561.63 217.07 L562.66 216.92 L563.69 216.77 L564.73 216.62 L565.76 216.48 L566.79 216.33 L567.83 216.19 L568.86 216.05 L569.89 215.92 L570.92 215.78 L571.96 215.64 L572.99 215.51 L574.02 215.37 L575.06 215.24 L576.09 215.11 L577.12 214.98 L578.15 214.85 L579.19 214.71 L580.22 214.58 L581.25 214.45 L582.29 214.32 L583.32 214.18 L584.35 214.05 L585.38 213.91 L586.42 213.78 L587.45 213.64" stroke="#00ff00" stroke-dasharray="3.1 1.9"/>
<path class="cv" d="M340.60 379.27 L341.63 379.07 L342.67 378.87 L343.70 378.68 L344.73 378.50 L345.76 378.32 L346.80 378.14 L347.83 377.97 L348.86 377.79 L349.90 377.62 L350.93 377.45 L351.96 377.28 L352.99 377.11 L354.03 376.94 L355.06 376.77 L356.09 376.59 L357.13 376.41 L358.16 376.22 L359.19 376.03 L360.22 375.84 L361.26 375.64 L362.29 375.43 L363.32 375.21 L364.36 374.99 L365.39 374.76 L366.42 374.51 L367.45 374.26 L368.49 373.99 L369.52 373.72 L370.55 373.43 L371.59 373.12 L372.62 372.81 L373.65 372.47 L374.68 372.13 L375.72 371.77 L376.75 371.39 L377.78 371.00 L378.82 370.59 L379.85 370.16 L380.88 369.72 L381.91 369.26 L382.95 368.78 L383.98 368.28 L385.01 367.76 L386.05 367.23 L387.08 366.68 L388.11 366.10 L389.14 365.51 L390.18 364.89 L391.21 364.26 L392.24 363.60 L393.28 362.92 L394.31 362.22 L395.34 361.50 L396.37 360.75 L397.41 359.98 L398.44 359.19 L399.47 358.38 L400.51 357.53 L401.54 356.67 L402.57 355.78 L403.60 354.86 L404.64 353.92 L405.67 352.96 L406.70 351.97 L407.73 350.96 L408.77 349.93 L409.80 348.88 L410.83 347.80 L411.87 346.71 L412.90 345.60 L413.93 344.47 L414.96 343.32 L416.00 342.16 L417.03 340.98 L418.06 339.78 L419.10 338.57 L420.13 337.34 L421.16 336.10 L422.19 334.85 L423.23 333.59 L424.26 332.31 L425.29 331.03 L426.33 329.73 L427.36 328.42 L428.39 327.11 L429.42 325.79 L430.46 324.46 L431.49 323.12 L432.52 321.78 L433.56 320.43 L434.59 319.08 L435.62 317.72 L436.65 316.36 L437.69 315.00 L438.72 313.63 L439.75 312.26 L440.79 310.89 L441.82 309.51 L442.85 308.14 L443.88 306.76 L444.92 305.38 L445.95 304.00 L446.98 302.62 L448.02 301.25 L449.05 299.87 L450.08 298.49 L451.11 297.12 L452.15 295.75 L453.18 294.38 L454.21 293.01 L455.25 291.65 L456.28 290.29 L457.31 288.93 L458.34 287.58 L459.38 286.23 L460.41 284.89 L461.44 283.56 L462.48 282.23 L463.51 280.90 L464.54 279.58 L465.57 278.27 L466.61 276.97 L467.64 275.68 L468.67 274.39 L469.71 273.12 L470.74 271.85 L471.77 270.59 L472.80 269.35 L473.84 268.11 L474.87 266.89 L475.90 265.68 L476.94 264.48 L477.97 263.30 L479.00 262.12 L480.03 260.97 L481.07 259.82 L482.10 258.70 L483.13 257.58 L484.17 256.49 L485.20 255.41 L486.23 254.35 L487.26 253.30 L488.30 252.28 L489.33 251.27 L490.36 250.28 L491.40 249.31 L492.43 248.36 L493.46 247.43 L494.49 246.52 L495.53 245.64 L496.56 244.77 L497.59 243.93 L498.63 243.11 L499.66 242.30 L500.69 241.52 L501.72 240.76 L502.76 240.01 L503.79 239.28 L504.82 238.58 L505.86 237.88 L506.89 237.21 L507.92 236.55 L508.95 235.91 L509.99 235.28 L511.02 234.67 L512.05 234.07 L513.09 233.49 L514.12 232.92 L515.15 232.37 L516.18 231.82 L517.22 231.29 L518.25 230.77 L519.28 230.27 L520.32 229.77 L521.35 229.29 L522.38 228.81 L523.41 228.35 L524.45 227.89 L525.48 227.44 L526.51 227.00 L527.54 226.57 L528.58 226.15 L529.61 225.74 L530.64 225.33 L531.68 224.93 L532.71 224.54 L533.74 224.16 L534.77 223.79 L535.81 223.42 L536.84 223.07 L537.87 222.72 L538.91 222.38 L539.94 222.05 L540.97 221.72 L542.00 221.41 L543.04 221.10 L544.07 220.80 L545.10 220.51 L546.14 220.23 L547.17 219.95 L548.20 219.69 L549.23 219.43 L550.27 219.18 L551.30 218.94 L552.33 218.71 L553.37 218.48 L554.40 218.27 L555.43 218.06 L556.46 217.86 L557.50 217.67 L558.53 217.49 L559.56 217.31 L560.60 217.14 L561.63 216.98 L562.66 216.82 L563.69 216.67 L564.73 216.52 L565.76 216.38 L566.79 216.23 L567.83 216.09 L568.86 215.96 L569.89 215.82 L570.92 215.68 L571.96 215.55 L572.99 215.41 L574.02 215.27 L575.06 215.14 L576.09 214.99 L577.12 214.85 L578.15 214.70 L579.19 214.55 L580.22 214.39 L581.25 214.23 L582.29 214.06 L583.32 213.89 L584.35 213.70 L585.38 213.51 L586.42 213.32 L587.45 213.11" stroke="#0000ff" stroke-dasharray="1.7 2.5"/>
</g>
<text transform="translate(332.60 350.99) scale(1 1)" text-anchor="end">0.2</text>
<text transform="translate(332.60 316.31) scale(1 1)" text-anchor="end">0.4</text>
<text transform="translate(332.60 281.64) scale(1 1)" text-anchor="end">0.6</text>
<text transform="translate(332.60 246.96) scale(1 1)" text-anchor="end">0.8</text>
<text transform="translate(399.37 398.00) scale(1 1)" text-anchor="middle">0.95</text>
<text transform="translate(464.15 398.00) scale(1 1)" text-anchor="middle">1</text>
<text transform="translate(528.93 398.00) scale(1 1)" text-anchor="middle">1.05</text>
<text transform="translate(403.60 229.25) scale(1 1)" text-anchor="end" style="fill:#ff0000">α=0.008</text>
<path class="cv" d="M412.40 224.85h9.9" stroke="#ff0000"/>
<text transform="translate(403.60 240.15) scale(1 1)" text-anchor="end" style="fill:#00ff00">α=0.003</text>
<path class="cv" d="M412.40 235.75h9.9" stroke="#00ff00" stroke-dasharray="3.1 1.9"/>
<text transform="translate(403.60 251.05) scale(1 1)" text-anchor="end" style="fill:#0000ff">α=0.04</text>
<path class="cv" d="M412.40 246.65h9.9" stroke="#0000ff" stroke-dasharray="1.7 2.5"/>
</g>
<text transform="translate(17.80 95.45) rotate(-90) scale(1 1)" text-anchor="middle">delta δ/K</text>
<text transform="translate(17.80 294.18) rotate(-90) scale(1 1)" text-anchor="middle">delta δ/K</text>
<text transform="translate(182.75 418.00) scale(1 1)" text-anchor="middle">moneyness S/K</text>
<text transform="translate(464.03 418.00) scale(1 1)" text-anchor="middle">moneyness S/K</text>
</svg>
</body></html>
